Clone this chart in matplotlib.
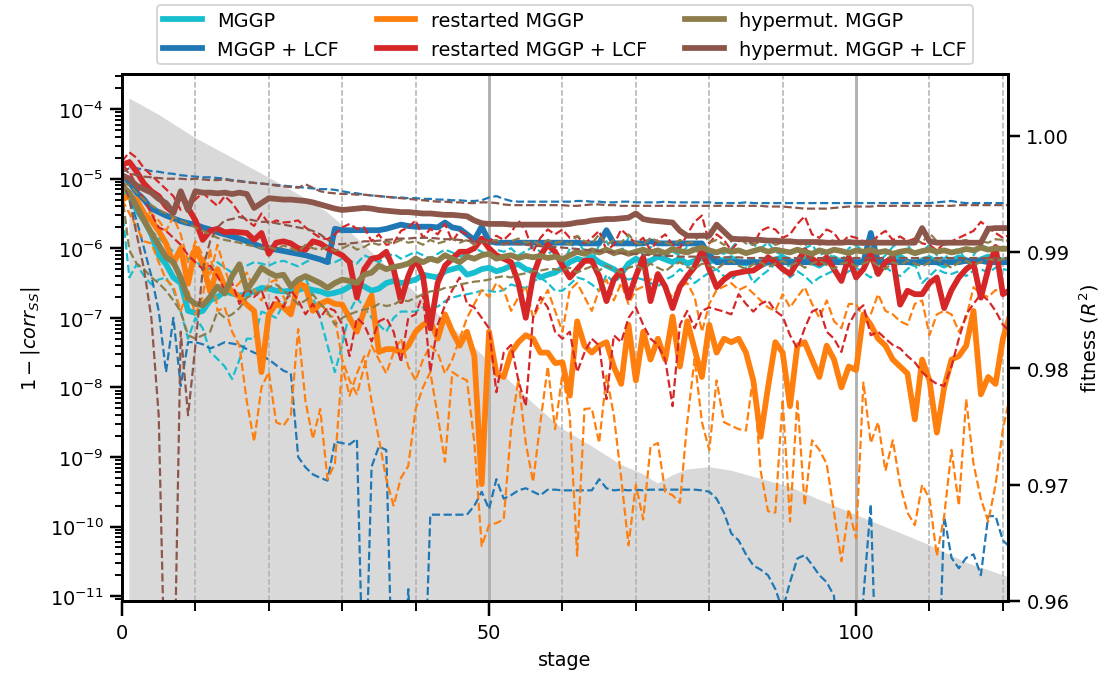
import numpy as np
import matplotlib
matplotlib.use('agg')
import matplotlib.pyplot as plt
from matplotlib.ticker import MultipleLocator

stages = np.arange(0, 122)

# log10(1 - |corr_SS|) per stage: median (solid) and spread (dashed) per method
mggp_med = [-5.10, -5.25, -5.45, -5.60, -5.80, -6.10, -6.23, -6.42, -6.50, -6.90,
            -6.93, -6.90, -6.75, -6.70, -6.62, -6.65, -6.68, -6.66, -6.62, -6.57,
            -6.58, -6.61, -6.62, -6.61, -6.60, -6.57, -6.60, -6.62, -6.66, -6.64,
            -6.61, -6.55, -6.50, -6.55, -6.61, -6.58, -6.50, -6.47, -6.50, -6.48,
            -6.45, -6.38, -6.40, -6.42, -6.33, -6.30, -6.27, -6.38, -6.35, -6.30,
            -6.28, -6.33, -6.30, -6.25, -6.23, -6.30, -6.33, -6.42, -6.38, -6.35,
            -6.28, -6.20, -6.15, -6.18, -6.12, -6.20, -6.25, -6.30, -6.37, -6.22,
            -6.15, -6.20, -6.18, -6.12, -6.16, -6.20, -6.15, -6.22, -6.18, -6.14,
            -6.20, -6.15, -6.18, -6.14, -6.20, -6.22, -6.18, -6.25, -6.20, -6.16,
            -6.13, -6.18, -6.22, -6.15, -6.20, -6.25, -6.18, -6.14, -6.20, -6.16,
            -6.22, -6.18, -6.13, -6.17, -6.21, -6.16, -6.12, -6.19, -6.23, -6.17,
            -6.14, -6.20, -6.25, -6.18, -6.13, -6.17, -6.22, -6.16, -6.12, -6.15,
            -6.18, -6.15]
mggp_lo = [-5.40, -6.42, -6.23, -6.40, -6.52, -6.45, -6.42, -6.60, -6.91, -7.30,
           -7.00, -7.15, -7.49, -7.59, -7.70, -7.88, -7.60, -7.30, -7.30, -6.91,
           -6.95, -7.00, -6.80, -6.61, -6.50, -6.42, -6.70, -7.00, -7.40, -7.78,
           -7.39, -6.91, -6.71, -6.85, -7.00, -7.10, -7.20, -7.00, -6.91, -6.91,
           -6.91, -6.85, -6.81, -6.84, -6.76, -6.71, -6.68, -6.66, -6.64, -6.61,
           -6.61, -6.63, -6.60, -6.52, -6.55, -6.57, -6.48, -6.42, -6.50, -6.61,
           -6.61, -6.52, -6.42, -6.45, -6.52, -6.61, -6.38, -6.50, -6.40, -6.45,
           -6.42, -6.45, -6.50, -6.55, -6.45, -6.40, -6.30, -6.38, -6.50, -6.42,
           -6.35, -6.30, -6.40, -6.45, -6.35, -6.28, -6.50, -6.40, -6.32, -6.22,
           -6.30, -6.42, -6.33, -6.40, -6.50, -6.42, -6.37, -6.32, -6.40, -6.33,
           -6.28, -6.35, -6.42, -6.32, -6.27, -6.35, -6.40, -6.30, -6.22, -6.50,
           -6.40, -6.30, -6.35, -6.37, -6.33, -6.40, -6.32, -6.30, -6.35, -6.28,
           -6.30, -6.32]
mggp_hi = [-5.20, -5.30, -5.50, -5.60, -5.75, -5.85, -5.95, -6.05, -6.10, -6.15,
           -6.20, -6.25, -6.30, -6.20, -6.28, -6.35, -6.30, -6.25, -6.20, -6.22,
           -6.25, -6.20, -6.18, -6.22, -6.26, -6.20, -6.15, -6.18, -6.22, -6.20,
           -6.15, -6.18, -6.22, -6.10, -6.15, -6.20, -6.12, -6.08, -6.15, -6.10,
           -6.05, -6.10, -6.15, -6.08, -6.02, -6.06, -6.12, -6.08, -6.00, -6.05,
           -6.10, -6.02, -6.05, -6.00, -6.10, -6.04, -5.98, -6.05, -6.08, -6.02,
           -6.25, -6.00, -5.88, -6.05, -6.20, -5.95, -5.90, -6.10, -6.05, -5.85,
           -5.95, -6.10, -5.98, -6.05, -6.15, -6.05, -6.10, -5.98, -6.02, -6.10,
           -6.15, -6.05, -6.08, -6.00, -5.88, -5.90, -5.95, -6.00, -5.92, -6.05,
           -6.10, -6.30, -6.15, -6.00, -5.95, -6.10, -6.05, -6.15, -6.20, -6.00,
           -5.95, -6.05, -6.10, -6.20, -6.10, -5.98, -5.90, -5.95, -6.10, -6.05,
           -5.95, -6.10, -6.15, -6.05, -6.00, -6.20, -6.10, -5.95, -6.00, -6.05,
           -6.00, -6.02]

mggp_lcf_med = [-4.95, -5.05, -5.20, -5.30, -5.43, -5.48, -5.53, -5.57, -5.61, -5.64,
                -5.66, -5.70, -5.73, -5.77, -5.80, -5.83, -5.86, -5.90, -5.94, -5.98,
                -6.00, -6.02, -6.04, -6.06, -6.08, -6.10, -6.13, -6.16, -6.20, -5.72,
                -5.74, -5.74, -5.74, -5.74, -5.74, -5.74, -5.72, -5.69, -5.66, -5.68,
                -5.69, -5.69, -5.69, -5.70, -5.63, -5.70, -5.72, -5.80, -5.88, -5.69,
                -5.90, -5.92, -5.92, -5.92, -5.92, -5.92, -5.92, -5.92, -5.92, -5.92,
                -5.92, -5.92, -5.92, -5.93, -5.93, -5.93, -5.74, -5.93, -5.93, -5.93,
                -5.93, -5.93, -5.90, -5.93, -5.93, -5.93, -5.93, -5.93, -5.93, -5.93,
                -6.10, -6.20, -6.20, -6.20, -6.20, -6.20, -6.20, -6.20, -6.20, -6.20,
                -6.20, -6.20, -6.20, -6.20, -6.20, -6.20, -6.20, -6.20, -6.20, -6.20,
                -6.20, -6.20, -5.78, -6.20, -6.20, -6.20, -6.20, -6.20, -6.20, -6.20,
                -6.20, -6.20, -6.20, -6.20, -6.20, -6.18, -6.18, -6.18, -6.20, -6.20,
                -6.20, -6.20]
mggp_lcf_lo = [-5.00, -5.30, -5.60, -6.00, -6.40, -6.90, -7.78, -7.00, -7.98, -7.35,
               -7.35, -7.38, -7.44, -7.40, -7.35, -7.37, -7.39, -7.45, -7.50, -7.54,
               -7.60, -7.68, -7.76, -7.80, -9.00, -9.15, -9.25, -9.30, -9.34, -8.78,
               -8.80, -8.82, -8.74, -13.0, -9.14, -8.85, -8.90, -13.0, -13.0, -10.9,
               -13.0, -13.0, -9.83, -9.83, -9.83, -9.83, -9.83, -9.83, -9.70, -9.50,
               -9.75, -9.32, -9.60, -9.55, -9.48, -9.45, -9.50, -9.55, -9.47, -9.47,
               -9.48, -9.48, -9.48, -9.48, -9.48, -9.32, -9.45, -9.48, -9.47, -9.48,
               -9.47, -9.48, -9.47, -9.47, -9.47, -9.47, -9.47, -9.47, -9.47, -9.48,
               -9.50, -9.60, -9.80, -10.10, -10.20, -10.40, -10.56, -10.62, -10.70, -10.90,
               -11.20, -10.80, -10.46, -10.41, -10.55, -10.70, -10.80, -11.00, -13.0, -13.0,
               -13.0, -11.00, -9.68, -13.0, -13.0, -13.0, -13.0, -13.0, -13.0, -13.0,
               -13.0, -13.0, -9.85, -10.45, -10.60, -10.45, -10.40, -10.70, -9.85, -9.85,
               -10.20, -10.30]
mggp_lcf_hi = [-4.90, -4.85, -4.85, -4.87, -4.89, -4.90, -4.92, -4.93, -4.95, -4.96,
               -4.97, -4.98, -4.98, -4.99, -5.00, -5.02, -5.03, -5.05, -5.06, -5.07,
               -5.08, -5.09, -5.10, -5.11, -5.12, -5.13, -5.14, -5.15, -5.15, -5.16,
               -5.18, -5.20, -5.21, -5.23, -5.24, -5.25, -5.26, -5.27, -5.27, -5.28,
               -5.28, -5.29, -5.29, -5.30, -5.30, -5.31, -5.31, -5.32, -5.32, -5.31,
               -5.27, -5.25, -5.29, -5.32, -5.33, -5.33, -5.33, -5.33, -5.33, -5.33,
               -5.33, -5.33, -5.32, -5.32, -5.33, -5.33, -5.34, -5.34, -5.33, -5.33,
               -5.34, -5.34, -5.34, -5.34, -5.33, -5.34, -5.34, -5.34, -5.34, -5.34,
               -5.34, -5.35, -5.35, -5.35, -5.35, -5.34, -5.35, -5.35, -5.35, -5.35,
               -5.35, -5.35, -5.35, -5.35, -5.35, -5.35, -5.35, -5.35, -5.35, -5.35,
               -5.35, -5.35, -5.35, -5.35, -5.35, -5.35, -5.35, -5.35, -5.35, -5.35,
               -5.35, -5.34, -5.33, -5.32, -5.34, -5.35, -5.35, -5.35, -5.35, -5.35,
               -5.35, -5.35]

rs_med = [-5.30, -5.25, -5.30, -5.50, -5.60, -5.75, -5.93, -6.22, -6.00, -6.51,
          -6.00, -6.22, -6.62, -6.30, -6.55, -6.62, -6.70, -6.81, -6.90, -7.78,
          -6.95, -6.80, -6.85, -6.95, -6.50, -6.55, -6.90, -6.80, -6.75, -6.80,
          -6.81, -7.00, -7.20, -6.90, -6.68, -7.49, -7.45, -7.45, -7.50, -7.40,
          -7.20, -7.10, -7.05, -7.30, -6.95, -7.20, -7.40, -7.20, -7.55, -9.39,
          -7.20, -7.80, -7.85, -7.50, -7.35, -7.25, -7.30, -7.50, -7.50, -7.65,
          -7.64, -8.12, -7.05, -7.40, -7.50, -7.40, -7.35, -7.70, -7.95, -7.10,
          -7.90, -7.20, -7.60, -7.30, -7.60, -6.98, -7.70, -7.05, -7.45, -7.85,
          -7.10, -7.50, -7.30, -7.35, -7.30, -7.50, -7.90, -8.71, -8.00, -7.35,
          -7.50, -8.27, -7.40, -7.35, -7.60, -7.85, -7.40, -7.60, -8.00, -7.70,
          -7.75, -6.95, -7.10, -7.30, -7.40, -7.60, -7.70, -7.80, -8.46, -7.60,
          -7.90, -8.65, -8.00, -7.60, -7.55, -7.40, -6.90, -8.10, -7.85, -7.95,
          -7.30, -6.95]
rs_lo = [-5.30, -5.50, -5.70, -5.90, -5.93, -6.20, -6.45, -6.55, -6.90, -6.60,
         -6.95, -6.70, -6.00, -6.90, -6.85, -7.20, -7.40, -8.20, -8.78, -8.00,
         -7.78, -8.50, -8.55, -8.40, -7.16, -8.20, -8.74, -8.31, -9.32, -9.10,
         -7.69, -8.12, -7.80, -7.55, -8.20, -8.74, -9.32, -9.70, -9.30, -9.13,
         -8.31, -8.00, -7.78, -8.40, -9.07, -7.78, -7.85, -7.90, -8.80, -10.28,
         -9.98, -9.95, -9.90, -8.60, -7.88, -8.80, -9.36, -8.50, -7.70, -8.60,
         -7.80, -8.40, -10.42, -8.31, -8.30, -8.80, -7.83, -8.40, -9.30, -10.27,
         -9.40, -9.90, -8.85, -8.80, -9.50, -9.55, -9.66, -8.50, -7.59, -8.50,
         -8.90, -7.90, -8.50, -8.55, -8.60, -8.62, -7.83, -9.20, -9.78, -9.80,
         -8.17, -9.93, -8.17, -9.70, -8.76, -8.90, -9.10, -9.80, -10.50, -9.75,
         -10.17, -7.93, -8.80, -8.50, -9.20, -8.76, -9.40, -9.80, -9.98, -9.40,
         -9.60, -10.42, -9.85, -8.90, -9.70, -8.17, -9.10, -9.60, -9.93, -9.40,
         -8.60, -8.10]
rs_hi = [-5.20, -5.30, -5.30, -5.45, -5.50, -5.60, -5.75, -5.55, -5.80, -6.20,
         -5.90, -6.10, -6.40, -5.95, -6.30, -6.60, -6.50, -6.35, -6.60, -6.75,
         -6.50, -6.45, -6.70, -6.90, -6.55, -6.60, -6.85, -6.75, -6.95, -7.00,
         -7.60, -7.90, -8.10, -7.70, -7.40, -7.60, -7.80, -7.50, -7.30, -7.70,
         -7.90, -7.60, -7.40, -7.50, -7.80, -7.60, -7.30, -7.00, -6.80, -6.60,
         -6.70, -6.50, -6.60, -6.90, -6.70, -6.55, -7.00, -6.80, -6.60, -6.90,
         -7.20, -6.60, -6.50, -6.70, -6.90, -6.60, -6.45, -6.75, -6.50, -6.80,
         -6.60, -6.55, -6.45, -6.37, -6.60, -6.70, -6.55, -6.50, -6.70, -7.20,
         -6.80, -6.60, -6.55, -6.50, -6.60, -6.55, -6.65, -6.75, -6.85, -6.90,
         -6.66, -6.85, -6.70, -6.56, -6.80, -7.00, -6.75, -7.05, -7.15, -6.80,
         -6.80, -7.00, -6.95, -6.66, -6.90, -6.95, -7.05, -7.10, -6.80, -6.75,
         -7.25, -6.95, -6.90, -6.95, -7.20, -7.00, -6.56, -6.66, -6.70, -6.60,
         -6.62, -6.60]

rs_lcf_med = [-4.80, -4.76, -4.90, -5.07, -5.18, -5.25, -5.40, -5.49, -5.20, -5.42,
              -5.60, -5.88, -5.75, -5.72, -5.77, -5.76, -5.77, -5.78, -5.88, -5.78,
              -6.08, -5.92, -5.90, -5.93, -6.00, -6.02, -5.90, -5.93, -6.00, -6.05,
              -6.10, -6.20, -6.71, -6.30, -6.15, -6.13, -6.05, -6.30, -6.76, -6.40,
              -6.15, -6.40, -7.15, -6.50, -6.25, -6.15, -6.05, -6.05, -6.00, -5.86,
              -6.00, -6.10, -6.15, -6.20, -6.50, -7.00, -6.40, -6.10, -5.95, -6.05,
              -6.25, -6.42, -6.30, -6.18, -6.18, -6.40, -6.76, -6.45, -6.32, -6.71,
              -6.40, -6.13, -6.76, -6.37, -6.55, -6.86, -6.55, -6.40, -6.27, -6.03,
              -6.30, -6.56, -6.45, -6.37, -6.35, -6.33, -6.32, -6.25, -6.13, -6.20,
              -6.30, -6.37, -6.20, -6.03, -6.15, -6.22, -6.13, -6.30, -6.47, -6.13,
              -6.42, -6.30, -6.08, -6.37, -6.20, -6.13, -6.81, -6.61, -6.66, -6.66,
              -6.50, -6.42, -6.86, -6.60, -6.42, -6.30, -6.22, -6.71, -6.30, -5.98,
              -6.66, -6.60]
rs_lcf_lo = [-4.80, -4.90, -5.10, -5.30, -5.50, -5.70, -5.75, -5.85, -5.95, -6.10,
             -6.20, -6.30, -6.25, -6.40, -6.60, -6.50, -6.80, -6.55, -6.70, -6.60,
             -6.90, -6.70, -6.85, -6.60, -6.75, -6.95, -6.80, -7.00, -6.85, -6.90,
             -7.10, -7.55, -7.00, -7.10, -7.34, -7.05, -7.00, -7.20, -7.64, -7.00,
             -6.95, -6.66, -7.78, -7.10, -6.82, -6.60, -6.42, -6.80, -6.85, -7.00,
             -7.15, -8.07, -7.50, -7.39, -7.90, -8.27, -7.00, -6.70, -6.85, -7.20,
             -7.30, -7.20, -7.78, -7.50, -7.30, -7.40, -8.17, -7.25, -7.35, -7.00,
             -6.85, -7.10, -7.30, -7.39, -7.60, -8.27, -7.10, -6.90, -7.15, -6.90,
             -6.85, -6.88, -6.91, -6.95, -6.66, -6.80, -6.91, -6.80, -6.75, -6.90,
             -6.98, -7.25, -7.44, -7.15, -6.91, -6.86, -7.20, -7.30, -7.49, -7.10,
             -6.91, -6.82, -7.25, -7.20, -7.30, -7.39, -7.44, -7.55, -7.64, -7.78,
             -7.88, -7.95, -7.98, -7.70, -7.30, -6.95, -6.80, -6.66, -6.75, -6.90,
             -7.10, -7.20]
rs_lcf_hi = [-4.75, -4.62, -4.70, -4.85, -4.95, -5.05, -5.15, -5.25, -5.45, -5.40,
             -5.30, -5.20, -5.30, -5.39, -5.25, -5.35, -5.50, -5.60, -5.68, -5.50,
             -5.65, -5.60, -5.63, -5.62, -5.60, -5.70, -5.78, -5.85, -5.87, -5.80,
             -5.70, -5.65, -5.72, -5.70, -5.90, -5.80, -5.95, -5.93, -5.75, -5.70,
             -5.60, -5.85, -5.72, -5.80, -5.65, -5.90, -5.75, -5.80, -5.95, -5.85,
             -5.90, -5.82, -5.88, -5.78, -5.60, -5.75, -6.05, -5.85, -5.73, -5.80,
             -5.73, -5.85, -5.83, -5.93, -5.85, -5.75, -6.03, -5.95, -5.73, -5.83,
             -5.93, -5.85, -6.03, -5.88, -5.80, -5.95, -6.00, -5.80, -5.62, -5.53,
             -5.93, -5.80, -5.88, -6.03, -5.90, -5.85, -5.95, -5.75, -5.70, -5.73,
             -5.85, -5.80, -5.65, -5.54, -5.80, -5.85, -5.73, -5.78, -5.93, -5.82,
             -5.85, -5.90, -5.93, -5.82, -5.75, -5.88, -5.83, -5.90, -5.86, -5.93,
             -5.95, -6.03, -5.93, -5.90, -5.85, -5.80, -5.75, -5.62, -5.70, -5.78,
             -5.85, -5.80]

hm_med = [-5.10, -5.20, -5.40, -5.60, -5.78, -5.95, -6.13, -6.20, -6.42, -6.72,
          -6.80, -6.82, -6.70, -6.55, -6.65, -6.40, -6.23, -6.60, -6.45, -6.28,
          -6.35, -6.40, -6.38, -6.55, -6.45, -6.40, -6.45, -6.50, -6.57, -6.50,
          -6.45, -6.47, -6.50, -6.38, -6.35, -6.25, -6.30, -6.27, -6.25, -6.22,
          -6.15, -6.20, -6.15, -6.18, -6.10, -6.15, -6.20, -6.12, -6.15, -6.10,
          -6.08, -6.15, -6.12, -6.10, -6.14, -6.11, -6.13, -6.11, -6.14, -6.12,
          -6.16, -6.10, -6.05, -6.08, -6.03, -6.06, -6.02, -6.07, -6.04, -6.08,
          -6.05, -6.02, -6.06, -6.03, -6.07, -6.01, -6.04, -6.06, -6.02, -5.99,
          -6.03, -6.06, -6.02, -6.05, -6.03, -6.07, -6.04, -6.01, -6.05, -6.02,
          -6.04, -6.06, -6.02, -6.05, -6.08, -6.03, -6.06, -6.02, -6.04, -6.07,
          -6.03, -6.05, -6.02, -6.06, -6.04, -6.08, -6.05, -6.03, -6.07, -6.04,
          -6.02, -6.05, -6.03, -6.06, -6.04, -6.01, -6.03, -5.99, -6.02, -6.00,
          -6.01, -6.00]
hm_lo = [-5.20, -6.03, -6.22, -6.30, -6.42, -6.50, -6.61, -6.75, -6.91, -7.25,
         -7.30, -7.25, -7.20, -6.91, -7.00, -6.95, -6.86, -6.71, -6.66, -6.61,
         -6.56, -6.52, -6.61, -6.70, -6.81, -6.75, -6.66, -6.80, -6.91, -7.10,
         -7.00, -6.95, -6.91, -6.88, -6.86, -6.80, -6.83, -6.81, -6.75, -6.76,
         -6.71, -6.66, -6.62, -6.61, -6.57, -6.56, -6.52, -6.50, -6.48, -6.47,
         -6.45, -6.42, -6.40, -6.42, -6.38, -6.36, -6.33, -6.32, -6.30, -6.30,
         -6.32, -6.28, -6.35, -6.30, -6.26, -6.32, -6.25, -6.30, -6.35, -6.28,
         -6.25, -6.30, -6.22, -6.28, -6.33, -6.25, -6.20, -6.27, -6.30, -6.22,
         -6.25, -6.30, -6.22, -6.18, -6.25, -6.30, -6.23, -6.20, -6.27, -6.22,
         -6.18, -6.25, -6.20, -6.28, -6.22, -6.18, -6.24, -6.30, -6.22, -6.20,
         -6.26, -6.22, -6.18, -6.25, -6.30, -6.20, -6.24, -6.18, -6.22, -6.26,
         -6.20, -6.16, -6.22, -6.28, -6.20, -6.18, -6.24, -6.20, -6.15, -6.18,
         -6.16, -6.14]
hm_hi = [-5.05, -5.10, -5.20, -5.30, -5.38, -5.45, -5.50, -5.55, -5.60, -5.65,
         -5.70, -5.75, -5.80, -5.85, -5.88, -5.90, -5.92, -5.95, -5.97, -6.00,
         -5.98, -6.02, -5.96, -6.00, -6.05, -5.95, -6.00, -6.02, -5.98, -6.04,
         -6.00, -5.95, -6.02, -5.98, -5.92, -5.95, -5.90, -5.93, -5.88, -5.92,
         -5.90, -5.95, -5.88, -5.93, -5.90, -5.86, -5.92, -5.88, -5.95, -5.90,
         -5.92, -5.88, -5.95, -5.90, -5.86, -5.92, -5.90, -5.95, -5.88, -5.92,
         -5.90, -5.95, -5.82, -5.90, -5.93, -5.80, -5.95, -5.88, -5.92, -5.80,
         -5.92, -5.95, -5.85, -5.90, -5.92, -5.95, -5.88, -5.93, -5.90, -5.76,
         -5.92, -5.88, -5.95, -5.90, -5.85, -5.93, -5.95, -5.90, -5.88, -5.95,
         -5.92, -5.88, -5.93, -5.96, -5.90, -5.95, -5.92, -5.88, -5.94, -5.90,
         -5.93, -5.95, -5.90, -5.88, -5.92, -5.95, -5.90, -5.93, -5.88, -5.92,
         -5.78, -5.90, -5.95, -5.92, -5.90, -5.88, -5.94, -5.90, -5.92, -5.87,
         -5.88, -5.90]

hm_lcf_med = [-4.95, -5.00, -5.10, -5.15, -5.20, -5.29, -5.35, -5.49, -5.18, -5.45,
              -5.18, -5.20, -5.20, -5.21, -5.20, -5.22, -5.20, -5.22, -5.42, -5.35,
              -5.28, -5.29, -5.30, -5.30, -5.31, -5.32, -5.34, -5.37, -5.40, -5.43,
              -5.45, -5.44, -5.43, -5.42, -5.43, -5.45, -5.46, -5.47, -5.48, -5.48,
              -5.49, -5.50, -5.50, -5.51, -5.52, -5.52, -5.53, -5.54, -5.60, -5.64,
              -5.65, -5.65, -5.65, -5.66, -5.66, -5.66, -5.66, -5.66, -5.66, -5.66,
              -5.66, -5.65, -5.63, -5.62, -5.60, -5.59, -5.58, -5.58, -5.57, -5.56,
              -5.50, -5.58, -5.60, -5.61, -5.62, -5.63, -5.75, -5.82, -5.82, -5.82,
              -5.82, -5.66, -5.76, -5.86, -5.87, -5.87, -5.88, -5.88, -5.89, -5.89,
              -5.90, -5.90, -5.91, -5.91, -5.91, -5.91, -5.92, -5.92, -5.92, -5.91,
              -5.92, -5.92, -5.92, -5.92, -5.92, -5.92, -5.92, -5.92, -5.92, -5.71,
              -5.90, -5.92, -5.92, -5.92, -5.92, -5.92, -5.92, -5.92, -5.72, -5.71,
              -5.71, -5.71]
hm_lcf_lo = [-5.00, -5.30, -5.80, -6.30, -7.00, -8.40, -13.0, -13.0, -7.20, -8.40,
             -7.40, -6.30, -5.90, -5.70, -5.60, -5.58, -5.55, -5.58, -5.60, -5.62,
             -5.62, -5.64, -5.66, -5.68, -5.70, -5.72, -5.75, -5.80, -5.88, -5.94,
             -5.94, -5.93, -5.92, -5.90, -5.90, -5.89, -5.88, -5.87, -5.86, -5.86,
             -5.85, -5.85, -5.85, -5.86, -5.87, -5.87, -5.88, -5.89, -5.90, -5.90,
             -5.91, -5.92, -5.93, -5.93, -5.94, -5.95, -5.96, -5.97, -5.98, -5.98,
             -5.99, -6.00, -6.01, -6.02, -6.03, -6.04, -6.05, -6.06, -6.07, -6.08,
             -6.08, -6.09, -6.10, -6.10, -6.11, -6.11, -6.12, -6.12, -6.12, -6.13,
             -6.13, -6.13, -6.13, -6.13, -6.13, -6.14, -6.14, -6.14, -6.14, -6.14,
             -6.14, -6.14, -6.14, -6.14, -6.14, -6.14, -6.14, -6.14, -6.14, -6.14,
             -6.14, -6.14, -6.14, -6.14, -6.14, -6.14, -6.14, -6.14, -6.14, -6.14,
             -6.14, -6.14, -6.14, -6.14, -6.14, -6.14, -6.14, -6.14, -6.14, -6.14,
             -6.14, -6.14]
hm_lcf_hi = [-4.85, -4.92, -4.95, -4.97, -4.98, -4.99, -5.00, -5.00, -5.00, -5.01,
             -5.00, -5.01, -5.02, -5.02, -5.01, -5.03, -5.04, -5.05, -5.06, -5.07,
             -5.08, -5.10, -5.11, -5.12, -5.13, -5.08, -5.13, -5.18, -5.20, -5.21,
             -5.22, -5.22, -5.23, -5.23, -5.24, -5.25, -5.26, -5.27, -5.28, -5.29,
             -5.30, -5.31, -5.32, -5.33, -5.33, -5.34, -5.34, -5.35, -5.35, -5.34,
             -5.34, -5.35, -5.37, -5.38, -5.38, -5.38, -5.38, -5.38, -5.38, -5.38,
             -5.38, -5.39, -5.39, -5.38, -5.37, -5.37, -5.38, -5.38, -5.39, -5.39,
             -5.39, -5.39, -5.39, -5.39, -5.39, -5.39, -5.39, -5.39, -5.39, -5.39,
             -5.39, -5.39, -5.39, -5.39, -5.39, -5.39, -5.39, -5.39, -5.40, -5.40,
             -5.40, -5.41, -5.42, -5.43, -5.43, -5.43, -5.43, -5.42, -5.41, -5.40,
             -5.40, -5.40, -5.40, -5.39, -5.39, -5.39, -5.39, -5.39, -5.39, -5.39,
             -5.39, -5.39, -5.39, -5.39, -5.38, -5.38, -5.38, -5.38, -5.38, -5.38,
             -5.38, -5.38]

# best fitness R^2 (right axis, shaded)
fit_stage = [1, 5, 10, 15, 20, 25, 28, 32, 36, 40, 44, 48, 52, 56, 60, 64, 68,
             71, 73, 75, 77, 80, 83, 87, 91, 95, 100, 105, 110, 115, 121]
fit_val = [1.0032, 1.0018, 0.9998, 0.9981, 0.9964, 0.9946, 0.9934, 0.9912,
           0.9888, 0.9865, 0.9841, 0.9818, 0.9794, 0.9770, 0.9748, 0.9733,
           0.9717, 0.9709, 0.9701, 0.9708, 0.9713, 0.9715, 0.9712, 0.9705,
           0.9698, 0.9687, 0.9674, 0.9661, 0.9648, 0.9633, 0.9620]

methods = [
    ('MGGP', '#17becf', mggp_med, mggp_lo, mggp_hi),
    ('MGGP + LCF', '#1f77b4', mggp_lcf_med, mggp_lcf_lo, mggp_lcf_hi),
    ('restarted MGGP', '#ff7f0e', rs_med, rs_lo, rs_hi),
    ('restarted MGGP + LCF', '#d62728', rs_lcf_med, rs_lcf_lo, rs_lcf_hi),
    ('hypermut. MGGP', '#8c7d4a', hm_med, hm_lo, hm_hi),
    ('hypermut. MGGP + LCF', '#8c564b', hm_lcf_med, hm_lcf_lo, hm_lcf_hi),
]

fig, ax = plt.subplots(figsize=(8.0, 4.8925), dpi=138.375)
fig.subplots_adjust(left=0.1102, right=0.9106, bottom=0.1108, top=0.8892)

ax2 = ax.twinx()
ax2.fill_between(fit_stage, 0.9, fit_val, color='#d9d9d9', lw=0)
ax2.set_ylim(0.96, 1.0053)
ax2.set_yticks([0.96, 0.97, 0.98, 0.99, 1.00])
ax2.set_ylabel(r'fitness ($R^2$)')

# correlation axis drawn on top of the shaded fitness
ax.set_zorder(ax2.get_zorder() + 1)
ax.patch.set_visible(False)

handles = []
for name, col, med, lo, hi in methods:
    h, = ax.plot(stages, 10 ** np.array(med), color=col, lw=3, label=name)
    ax.plot(stages, 10 ** np.array(lo), color=col, lw=1.15, ls='--')
    ax.plot(stages, 10 ** np.array(hi), color=col, lw=1.15, ls='--')
    handles.append(h)

ax.set_yscale('log')
ax.set_ylim(8.5e-12, 3.2e-4)
ax.set_xlim(0, 120.7)
ax.xaxis.set_major_locator(MultipleLocator(50))
ax.xaxis.set_minor_locator(MultipleLocator(10))
ax.xaxis.grid(True, which='major', ls='-', color='#b0b0b0', lw=1.5)
ax.xaxis.grid(True, which='minor', ls='--', color='#b0b0b0', lw=0.8)
ax.set_xlabel('stage')
ax.set_ylabel(r'$1 - |corr_{SS}|$')

for a in (ax, ax2):
    for sp in a.spines.values():
        sp.set_linewidth(1.5)
    a.tick_params(which='major', length=6, width=1.3)
    a.tick_params(which='minor', length=3.5, width=1.0)
ax.tick_params(axis='x', which='major', length=8)
ax.tick_params(axis='x', which='minor', length=5)

ax.legend(handles=handles, loc='lower center', bbox_to_anchor=(0.5, 1.0),
          ncol=3, framealpha=0.8, borderpad=0.3)

plt.savefig('out.png')
